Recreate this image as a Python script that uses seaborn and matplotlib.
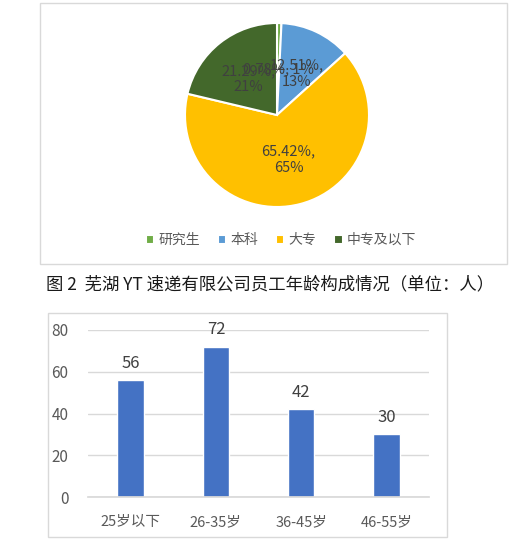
import matplotlib
matplotlib.use('Agg')
import matplotlib.pyplot as plt
import seaborn as sns
import pandas as pd
from matplotlib.patches import Rectangle

sns.set_theme(style='white')
plt.rcParams['font.family'] = ['Noto Sans CJK SC', 'DejaVu Sans']
plt.rcParams['axes.unicode_minus'] = False

# 学历构成
edu_labels = ['研究生', '本科', '大专', '中专及以下']
edu_pct = [0.78, 12.51, 65.42, 21.29]
edu_colors = ['#70AD47', '#5B9BD5', '#FFC000', '#43682B']

# 年龄构成
age_labels = ['25岁以下', '26-35岁', '36-45岁', '46-55岁']
age_counts = [56, 72, 42, 30]

caption = '图 2  芜湖 YT 速递有限公司员工年龄构成情况（单位：人）'

W, H = 531, 546
fig = plt.figure(figsize=(W / 100, H / 100), dpi=100)

def fx(px):
    return px / W

def fy(py):
    return 1 - py / H

# chart frames
fig.patches.append(Rectangle((fx(40), fy(264)), fx(467), 261 / H, transform=fig.transFigure,
                             fill=False, edgecolor='#D9D9D9', lw=1))
fig.patches.append(Rectangle((fx(48), fy(537)), fx(399), 224 / H, transform=fig.transFigure,
                             fill=False, edgecolor='#D9D9D9', lw=1))

# pie
ax1 = fig.add_axes([fx(185), fy(207), fx(184), 184 / H])

def fmt(p):
    if p < 5:
        return f'{p:.2f}%, {p:.0f}%'
    return f'{p:.2f}%,\n{p:.0f}%'

wedges, texts, autotexts = ax1.pie(edu_pct, colors=edu_colors, startangle=90, counterclock=False,
                                   autopct=fmt, pctdistance=0.5,
                                   wedgeprops=dict(edgecolor='white', linewidth=1.5),
                                   textprops=dict(color='#404040', fontsize=10.5))
for t in autotexts:
    t.set_linespacing(1.2)
ax1.set_xlim(-1, 1)
ax1.set_ylim(-1, 1)
ax1.set_aspect('equal')
ax1.axis('off')

fig.legend(wedges, edu_labels, loc='center', bbox_to_anchor=(fx(281), fy(240)), ncol=4,
           frameon=False, fontsize=10, handlelength=0.6, handleheight=0.6, handletextpad=0.3,
           columnspacing=1.3, labelcolor='#595959')

fig.text(fx(270), fy(284), caption, ha='center', va='center', fontsize=12.5, color='#1a1a1a')

# bars
ax2 = fig.add_axes([fx(88), fy(497), fx(341), 167 / H])
df = pd.DataFrame({'age': age_labels, 'count': age_counts})
sns.barplot(data=df, x='age', y='count', ax=ax2, color='#4472C4', width=0.31, saturation=1)
ax2.set_ylim(0, 80)
ax2.set_xlim(-0.5, 3.5)
ax2.set_yticks([0, 20, 40, 60, 80])
ax2.yaxis.grid(True, color='#D9D9D9', lw=1)
ax2.set_axisbelow(True)
for s in ['top', 'right', 'left']:
    ax2.spines[s].set_visible(False)
ax2.spines['bottom'].set_color('#D9D9D9')
ax2.set_xlabel('')
ax2.set_ylabel('')
ax2.tick_params(axis='y', length=0, pad=14, labelsize=11, labelcolor='#595959')
ax2.tick_params(axis='x', length=0, pad=13, labelsize=10.5, labelcolor='#595959')
for c in ax2.containers:
    ax2.bar_label(c, padding=6, fontsize=12, color='#404040')

fig.savefig('out.png', dpi=100)
